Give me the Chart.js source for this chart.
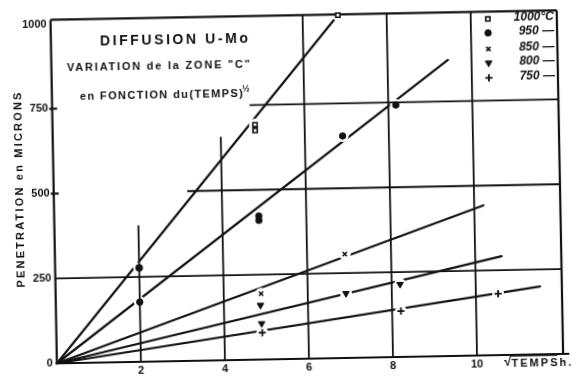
<!DOCTYPE html>
<html lang="fr">
<head>
<meta charset="utf-8">
<title>Diffusion U-Mo</title>
<script src="https://cdn.jsdelivr.net/npm/chart.js"></script>
<style>
  html, body { margin: 0; padding: 0; background: #fff; overflow: hidden; }
  /* the scanned sheet sits about one degree off square */
  #sheet { position: absolute; left: 0; top: 0; width: 579px; height: 379px; transform: rotate(-1.07deg); transform-origin: 50% 50%; }
</style>
</head>
<body>
<div id="sheet"><canvas id="diffusionChart" width="579" height="379"></canvas></div>
<script>
const ink = '#111';

const xTicks = [2, 4, 6, 8, 10];
const yTicks = [0, 250, 500, 750, 1000];
const legendLabels = ['1000°C', '950 —', '850 —', '800 —', '750 —'];

// measured points: [sqrt(hours), penetration in microns]
const pts1000 = [[2.0, 277], [4.82, 675], [4.82, 692], [6.84, 1010]];
const pts950 = [[2.0, 176], [4.87, 410], [4.87, 423], [6.9, 654], [8.18, 742]];
const pts850 = [[4.89, 194], [6.9, 306]];
const pts800 = [[4.87, 160], [4.89, 106], [6.91, 190], [8.2, 214]];
const pts750 = [[4.9, 79], [8.21, 135], [10.53, 181]];

// straight lines drawn from the origin, [start, end of stroke]
const fit1000 = [[0, 0], [6.84, 1010]];
const fit950 = [[0, 0], [9.44, 872]];
const fit850 = [[0, 0], [10.22, 442]];
const fit800 = [[0, 0], [10.63, 291]];
const fit750 = [[0, 0], [11.53, 200]];

const toXY = arr => arr.map(([x, y]) => ({ x, y }));

const markerStyles = [
    { pointStyle: 'rect', radius: 3, fill: '#fff', borderWidth: 1.6, rotation: 0 },
    { pointStyle: 'circle', radius: 3.2, fill: ink, borderWidth: 1, rotation: 0 },
    { pointStyle: 'crossRot', radius: 3, fill: ink, borderWidth: 1.6, rotation: 0 },
    { pointStyle: 'triangle', radius: 3.8, fill: ink, borderWidth: 1, rotation: 180 },
    { pointStyle: 'cross', radius: 3.6, fill: ink, borderWidth: 1.8, rotation: 0 }
];

const fits = [fit1000, fit950, fit850, fit800, fit750];
const readings = [pts1000, pts950, pts850, pts800, pts750];

const datasets = [];
fits.forEach(f => {
    datasets.push({
        data: toXY(f),
        showLine: true,
        borderColor: ink,
        borderWidth: 2.2,
        borderCapStyle: 'round',
        pointRadius: 0,
        clip: false
    });
});
readings.forEach((p, i) => {
    const m = markerStyles[i];
    datasets.push({
        data: toXY(p),
        showLine: false,
        pointStyle: m.pointStyle,
        pointRadius: m.radius,
        pointRotation: m.rotation,
        pointBackgroundColor: m.fill,
        pointBorderColor: ink,
        pointBorderWidth: m.borderWidth,
        clip: false
    });
});
// first 1000 °C reading is inked as a solid dot
datasets[5].pointStyle = ['circle', 'rect', 'rect', 'rect'];
datasets[5].pointBackgroundColor = [ink, '#fff', '#fff', '#fff'];

// spread a string out to a given width, like the stencil lettering
function spreadText(ctx, str, left, midY, width) {
    ctx.letterSpacing = '0px';
    const natural = ctx.measureText(str).width;
    const gap = Math.max(0, (width - natural) / (str.length - 1));
    ctx.letterSpacing = gap.toFixed(2) + 'px';
    ctx.textAlign = 'left';
    ctx.fillText(str, left, midY);
    ctx.letterSpacing = '0px';
}

const sketchPlugin = {
    id: 'sketch',
    beforeDatasetsDraw(chart, args, opts) {
        const { ctx, chartArea: a, scales: { x, y } } = chart;
        const seg = (x1, y1, x2, y2) => { ctx.beginPath(); ctx.moveTo(x1, y1); ctx.lineTo(x2, y2); ctx.stroke(); };
        ctx.save();
        ctx.strokeStyle = ink;
        ctx.lineWidth = 1.8;
        // hand-ruled grid, some lines stop short
        opts.gridV.forEach(g => {
            const px = x.getPixelForValue(g.at);
            seg(px, a.bottom, px, g.upTo === undefined ? a.top : y.getPixelForValue(g.upTo));
        });
        opts.gridH.forEach(g => {
            const py = y.getPixelForValue(g.at);
            seg(x.getPixelForValue(g.from), py, a.right, py);
        });
        ctx.lineWidth = 2.2;
        seg(a.left, a.bottom, a.left, a.top);
        seg(a.left, a.top, a.right, a.top);
        seg(a.right, a.top, a.right, a.bottom);
        seg(a.left, a.bottom, x.getPixelForValue(12.2), a.bottom);
        // short ticks on the ordinate
        [500, 750].forEach(v => {
            const py = y.getPixelForValue(v);
            seg(a.left - 3, py, a.left + 5, py);
        });
        ctx.restore();
    },
    // the ruled lines are broken where the pen lifted round each reading
    beforeDatasetDraw(chart, args, opts) {
        if (args.index >= fits.length) return;
        const { ctx, width, height } = chart;
        const pts = chart.getDatasetMeta(args.index + fits.length).data;
        ctx.save();
        ctx.beginPath();
        ctx.rect(0, 0, width, height);
        pts.forEach(p => {
            ctx.moveTo(p.x + opts.gap, p.y);
            ctx.arc(p.x, p.y, opts.gap, 0, Math.PI * 2);
        });
        ctx.clip('evenodd');
    },
    afterDatasetDraw(chart, args) {
        if (args.index >= fits.length) return;
        chart.ctx.restore();
    },
    afterDraw(chart) {
        const { ctx, chartArea: a } = chart;
        ctx.save();
        ctx.fillStyle = ink;
        ctx.textBaseline = 'middle';

        // title block
        ctx.font = 'bold 14px "Liberation Sans"';
        spreadText(ctx, 'DIFFUSION U-Mo', 102.8, 37.8, 148);
        ctx.font = 'bold 11px "Liberation Sans"';
        spreadText(ctx, 'VARIATION de la ZONE "C"', 69.3, 63.8, 183);
        spreadText(ctx, 'en FONCTION du(TEMPS)', 81.7, 93.1, 163);
        ctx.font = 'bold 9px "Liberation Sans"';
        ctx.fillText('½', 244, 89);

        // ordinate title
        ctx.save();
        ctx.translate(20, 185);
        ctx.rotate(-Math.PI / 2);
        ctx.font = 'bold 11px "Liberation Sans"';
        spreadText(ctx, 'PENETRATION en MICRONS', -97.5, 0, 195);
        ctx.restore();

        // abscissa title
        ctx.font = 'bold 13px "Liberation Sans"';
        ctx.textAlign = 'left';
        ctx.fillText('√', 501, 366.7);
        const rootW = ctx.measureText('√').width;
        ctx.font = 'bold 11px "Liberation Sans"';
        spreadText(ctx, 'TEMPSh.', 501 + rootW, 367.5, 60);
        ctx.strokeStyle = ink;
        ctx.lineWidth = 1.3;
        ctx.beginPath();
        ctx.moveTo(501 + rootW - 1, 360);
        ctx.lineTo(501 + rootW + 46, 360);
        ctx.stroke();

        // legend inside the top right box
        const rowsY = [22.7, 36.7, 52.7, 66.7, 81.7];
        legendLabels.forEach((lab, i) => {
            const m = markerStyles[i];
            ctx.fillStyle = m.fill;
            ctx.strokeStyle = ink;
            ctx.lineWidth = m.borderWidth;
            Chart.helpers.drawPoint(ctx, {
                pointStyle: m.pointStyle, radius: m.radius,
                rotation: m.rotation, borderWidth: m.borderWidth
            }, a.right - 69, rowsY[i]);
            ctx.fillStyle = ink;
            ctx.font = 'italic bold 12px "Liberation Sans"';
            ctx.textAlign = 'right';
            ctx.fillText(lab, a.right - 3, rowsY[i] - 1.5);
        });
        ctx.restore();
    }
};

const tickFont = { family: 'Liberation Sans', size: 11, weight: 'bold' };

new Chart(document.getElementById('diffusionChart'), {
    type: 'scatter',
    data: { datasets: datasets },
    options: {
        responsive: false,
        animation: false,
        layout: { padding: { top: 15.4, right: 19, left: 0, bottom: 0 } },
        scales: {
            x: {
                type: 'linear',
                min: 0,
                max: 12.05,
                afterFit: s => { s.height = 20; },
                afterBuildTicks: s => { s.ticks = xTicks.map(v => ({ value: v })); },
                grid: { display: false, drawTicks: false },
                border: { display: false },
                ticks: { color: ink, padding: 2, maxRotation: 0, autoSkip: false, font: tickFont }
            },
            y: {
                type: 'linear',
                min: 0,
                max: 1012,
                afterFit: s => { s.width = 53.7; },
                afterBuildTicks: s => { s.ticks = yTicks.map(v => ({ value: v })); },
                grid: { display: false, drawTicks: false },
                border: { display: false },
                ticks: { color: ink, padding: 4, autoSkip: false, font: tickFont, callback: v => String(v) }
            }
        },
        plugins: {
            legend: { display: false },
            tooltip: { enabled: false },
            sketch: {
                gap: 6,
                gridV: [{ at: 2, upTo: 402 }, { at: 4, upTo: 658 }, { at: 6 }, { at: 8 }, { at: 10 }],
                gridH: [{ at: 250, from: 0 }, { at: 500, from: 3.18 }, { at: 750, from: 4.7 }]
            }
        }
    },
    plugins: [sketchPlugin]
});
</script>
</body>
</html>
